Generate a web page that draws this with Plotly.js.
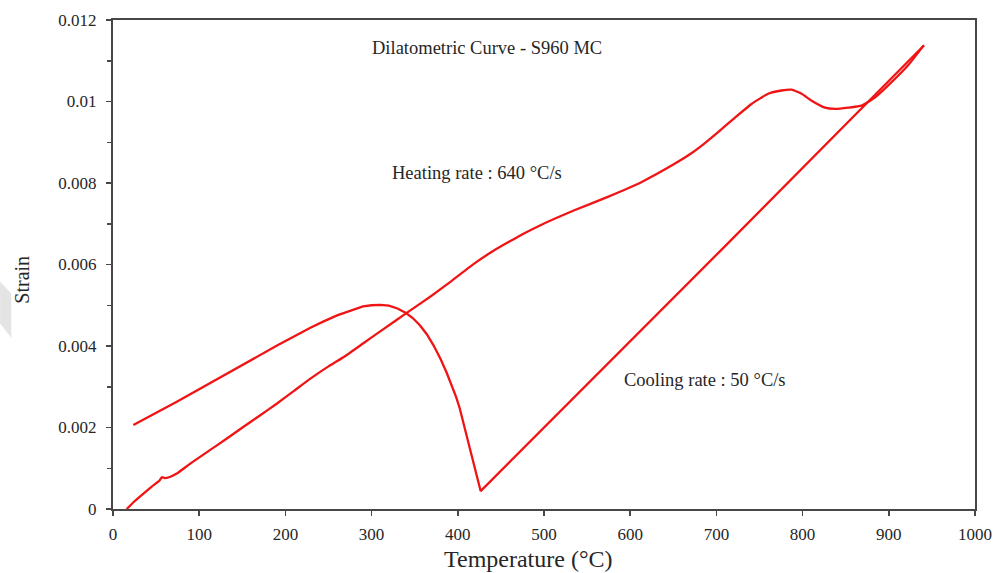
<!DOCTYPE html>
<html>
<head>
<meta charset="utf-8">
<script src="https://cdn.plot.ly/plotly-3.0.1.min.js"></script>
<style>
  html, body { margin: 0; padding: 0; background: #fff; }
  #chart { width: 995px; height: 573px; }
</style>
</head>
<body>
<div id="chart"></div>
<script>
// Heating branch: temperature (°C) and strain
const heatT = [15.9, 25, 35.3, 45, 54, 56.6, 60, 65, 74, 90, 112.8, 130, 151.5, 170, 190.3, 210, 229, 250, 267.8,
  290, 310, 342, 370, 393, 419, 440, 457.8, 475, 496.5, 535.2, 574, 612.8, 651.5, 671, 682.6, 702, 721.3, 740.7,
  760, 775.6, 787.2, 798.8, 810.5, 826, 837.6, 853.1, 868.6, 884, 899.6, 922.9, 940.3];
const heatS = [0, 0.00019, 0.00038, 0.00055, 0.00070, 0.00078, 0.00076, 0.00078, 0.00087, 0.00112, 0.00145,
  0.00170, 0.00202, 0.00229, 0.00259, 0.00290, 0.00320, 0.00350, 0.00373, 0.00406, 0.00436, 0.00483, 0.00524,
  0.00560, 0.00602, 0.00632, 0.00654, 0.00674, 0.00697, 0.00733, 0.00766, 0.00802, 0.00847, 0.00873, 0.00891,
  0.00925, 0.00960, 0.00994, 0.01019, 0.01027, 0.01029, 0.01019, 0.01002, 0.00985, 0.00982, 0.00985, 0.00990,
  0.01010, 0.01040, 0.01090, 0.01137];

// Cooling branch: temperature (°C) and strain
const coolT = [941, 705.8, 426.5, 422, 418, 414, 410, 406, 402, 398, 393, 387, 380, 372, 364, 356, 348, 340,
  330, 320, 310, 300, 290, 275.6, 260, 245, 229, 190.3, 151.5, 112.8, 74, 23.6];
const coolS = [0.01138, 0.00636, 0.00044, 0.00082, 0.00118, 0.00153, 0.00188, 0.00220, 0.00249, 0.00275, 0.00304,
  0.00335, 0.00368, 0.00401, 0.00429, 0.00451, 0.00468, 0.00481, 0.00492, 0.00499, 0.00501, 0.00500, 0.00497,
  0.00487, 0.00475, 0.00461, 0.00445, 0.00401, 0.00355, 0.00309, 0.00263, 0.00206];

const yTicks = [0, 0.002, 0.004, 0.006, 0.008, 0.01, 0.012];
const yTickText = ['0', '0.002', '0.004', '0.006', '0.008', '0.01', '0.012'];
const xTicks = [0, 100, 200, 300, 400, 500, 600, 700, 800, 900, 1000];

const chartTitle = 'Dilatometric Curve - S960 MC';
const heatingLabel = 'Heating rate : 640 °C/s';
const coolingLabel = 'Cooling rate : 50 °C/s';
const xTitle = 'Temperature (°C)';
const yTitle = 'Strain';

const serif = 'Liberation Serif, Times New Roman, serif';
const ink = '#262626';
const axisColor = '#474747';
const curveColor = '#f01414';

const traces = [
  { x: heatT, y: heatS, type: 'scatter', mode: 'lines', name: 'Heating',
    line: { color: curveColor, width: 2.3, shape: 'spline', smoothing: 0.4 } },
  { x: coolT, y: coolS, type: 'scatter', mode: 'lines', name: 'Cooling',
    line: { color: curveColor, width: 2.3, shape: 'linear' } }
];

const layout = {
  width: 995, height: 573,
  margin: { l: 113, r: 20, t: 20, b: 64 },
  paper_bgcolor: '#fff', plot_bgcolor: '#fff',
  showlegend: false,
  font: { family: serif, size: 17, color: ink },
  xaxis: {
    range: [0, 1000], tickvals: xTicks, ticks: 'outside', ticklen: 5, tickwidth: 1.5,
    tickcolor: axisColor, showline: true, linecolor: axisColor, linewidth: 2, mirror: true,
    showgrid: false, zeroline: false, ticklabelstandoff: 4,
    tickfont: { family: serif, size: 17, color: ink }
  },
  yaxis: {
    range: [0, 0.012], tickvals: yTicks, ticktext: yTickText, ticks: 'outside', ticklen: 5, tickwidth: 1.5,
    tickcolor: axisColor, showline: true, linecolor: axisColor, linewidth: 2, mirror: true,
    showgrid: false, zeroline: false, ticklabelstandoff: 6,
    minor: { dtick: 0.001, ticks: 'outside', ticklen: 4, tickwidth: 1.5, tickcolor: axisColor, showgrid: false },
    tickfont: { family: serif, size: 17, color: ink }
  },
  annotations: [
    { text: chartTitle, xref: 'x', yref: 'y', x: 434, y: 0.01132, showarrow: false,
      font: { family: serif, size: 18.5, color: ink } },
    { text: heatingLabel, xref: 'x', yref: 'y', x: 422, y: 0.00825, showarrow: false,
      font: { family: serif, size: 18.5, color: ink } },
    { text: coolingLabel, xref: 'x', yref: 'y', x: 687, y: 0.00316, showarrow: false,
      font: { family: serif, size: 18.5, color: ink } },
    { text: xTitle, xref: 'paper', yref: 'paper', x: 0.482, y: -0.1329, xanchor: 'center', yanchor: 'bottom',
      showarrow: false, font: { family: serif, size: 24, color: ink } },
    { text: yTitle, xref: 'paper', yref: 'paper', x: -0.105, y: 0.470, xanchor: 'center', yanchor: 'middle',
      textangle: -90, showarrow: false, font: { family: serif, size: 20, color: ink } }
  ],
  shapes: [
    { type: 'path', xref: 'paper', yref: 'paper', layer: 'below',
      path: 'M -0.131 0.465 L -0.118 0.440 L -0.118 0.350 L -0.131 0.380 Z',
      fillcolor: 'rgba(210,210,210,0.6)', line: { width: 0 } }
  ]
};

Plotly.newPlot('chart', traces, layout, { displayModeBar: false, staticPlot: true });
</script>
</body>
</html>
